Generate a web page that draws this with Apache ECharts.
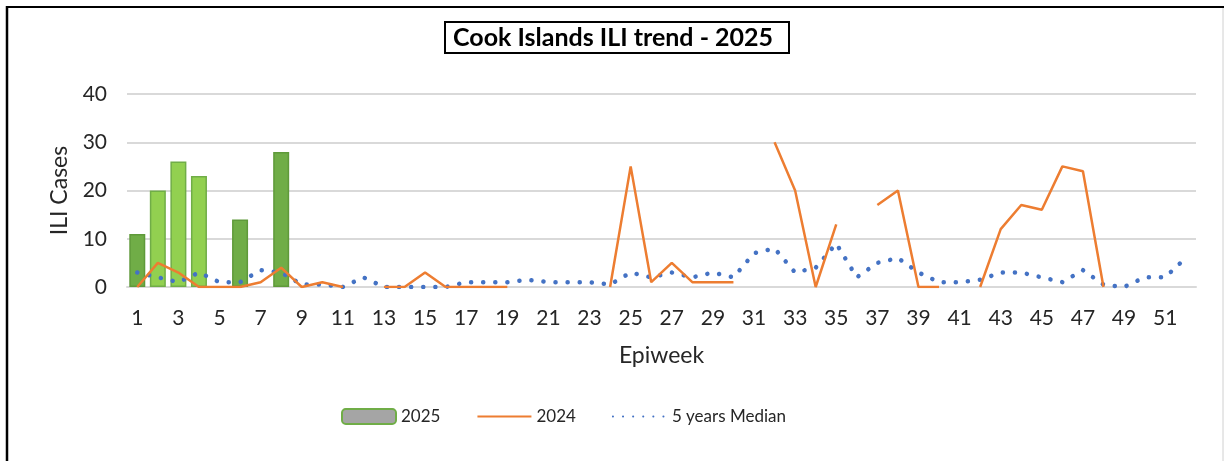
<!DOCTYPE html>
<html>
<head>
<meta charset="utf-8">
<script src="https://cdn.jsdelivr.net/npm/echarts@6/dist/echarts.min.js"></script>
<style>
  html, body { margin: 0; padding: 0; background: #fff; }
  #chart { width: 1224px; height: 461px; }
</style>
</head>
<body>
<div id="chart"></div>
<script>
var weeks = [];
for (var w = 1; w <= 52; w++) weeks.push(String(w));

// 2025 ILI cases (bars), only weeks reported so far
var cases2025 = [11, 20, 26, 23, null, 14, null, 28];
// light green bars for weeks 2-4, darker for the others
var lightWeeks = [2, 3, 4];

// 2024 ILI cases, gaps where no report
var cases2024 = [
  0, 5, 3, 0, 0, 0, 1, 4, 0, 1,
  0, null, 0, 0, 3, 0, 0, 0, 0, null,
  null, null, null, 0, 25, 1, 5, 1, 1, 1,
  null, 30, 20, 0, 13, null, 17, 20, 0, 0,
  null, 0, 12, 17, 16, 25, 24, 0, null, null,
  null, null
];

// 5 years median
var median5y = [
  3, 2, 1, 3, 1, 1, 3.5, 3, 0.5, 0.5,
  0, 2, 0, 0, 0, 0, 1, 1, 1, 1.5,
  1, 1, 1, 0.5, 3, 2, 3, 2, 3, 2,
  7, 8, 3, 4, 9, 2, 5, 6, 3, 1,
  1, 1.5, 3, 3, 2, 1, 3.5, 0.5, 0, 2,
  2, 6
];

var barData = cases2025.map(function (v, i) {
  var light = lightWeeks.indexOf(i + 1) >= 0;
  return {
    value: v,
    itemStyle: {
      color: light ? '#92D050' : '#70AD47',
      borderColor: light ? '#70AD47' : '#5F9A3A'
    }
  };
});

var font = 'Lato, "Open Sans", sans-serif';
var myChart = echarts.init(document.getElementById('chart'));

var option = {
  backgroundColor: '#fff',
  animation: false,
  textStyle: { fontFamily: font },
  title: {
    text: 'Cook Islands ILI trend - 2025',
    left: 445,
    top: 22,
    padding: [3, 16, 3, 8],
    borderColor: '#000',
    borderWidth: 2,
    textStyle: { fontFamily: font, fontSize: 25, fontWeight: 'bold', color: '#000' }
  },
  graphic: [
    { type: 'line', shape: { x1: 6, y1: 7, x2: 1224, y2: 7 }, style: { stroke: '#000', lineWidth: 2 } },
    { type: 'line', shape: { x1: 7, y1: 6, x2: 7, y2: 461 }, style: { stroke: '#000', lineWidth: 2.5 } },
    { type: 'line', shape: { x1: 1223, y1: 8, x2: 1223, y2: 461 }, style: { stroke: '#d0d0d0', lineWidth: 1 } }
  ],
  legend: {
    left: 336,
    top: 403,
    itemWidth: 54,
    itemHeight: 15,
    itemGap: 36,
    textStyle: { fontFamily: font, fontSize: 17, color: '#262626' },
    data: [
      '2025',
      { name: '2024', itemStyle: { opacity: 0 } },
      { name: '5 years Median', itemStyle: { opacity: 0 }, lineStyle: { type: [0.1, 10] } }
    ]
  },
  grid: { left: 127, right: 28, top: 94, bottom: 174 },
  xAxis: {
    type: 'category',
    data: weeks,
    name: 'Epiweek',
    nameLocation: 'middle',
    nameGap: 57,
    nameTextStyle: { fontFamily: font, fontSize: 23, color: '#262626' },
    axisLine: { lineStyle: { color: '#d9d9d9', width: 2 } },
    axisTick: { show: false },
    axisLabel: { interval: 1, fontSize: 21, color: '#262626', margin: 21 }
  },
  yAxis: {
    type: 'value',
    min: 0,
    max: 40,
    interval: 10,
    name: 'ILI Cases',
    nameLocation: 'middle',
    nameGap: 56,
    nameTextStyle: { fontFamily: font, fontSize: 23, color: '#262626' },
    axisLine: { show: false },
    axisTick: { show: false },
    axisLabel: { fontSize: 21, color: '#262626', margin: 20 },
    splitLine: { lineStyle: { color: '#d9d9d9', width: 2 } }
  },
  series: [
    {
      name: '2025',
      type: 'bar',
      data: barData,
      barWidth: 16,
      itemStyle: { color: '#A5A5A5', borderColor: '#70AD47', borderWidth: 1.5 },
      z: 1
    },
    {
      name: '2024',
      type: 'line',
      data: cases2024,
      symbol: 'none',
      connectNulls: false,
      itemStyle: { color: '#ED7D31' },
      lineStyle: { color: '#ED7D31', width: 2.5 },
      z: 3
    },
    {
      name: '5 years Median',
      type: 'line',
      data: median5y,
      symbol: 'none',
      itemStyle: { color: '#4472C4' },
      lineStyle: { color: '#4472C4', width: 4.5, type: [0.1, 12], cap: 'round' },
      z: 2
    }
  ]
};

myChart.setOption(option);
</script>
</body>
</html>
